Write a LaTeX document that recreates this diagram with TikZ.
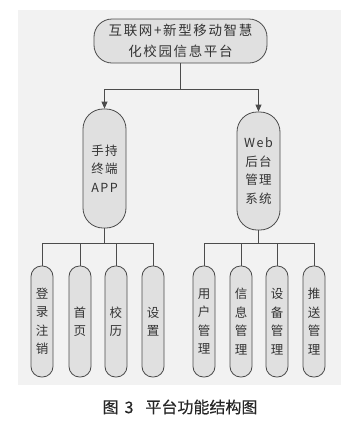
\documentclass[tikz,border=0pt]{standalone}
\usepackage{fontspec}
\newfontfamily\cjk{Noto Sans CJK SC}
\newfontfamily\cjkw[LetterSpace=12]{Noto Sans CJK SC}
\newfontfamily\cjkc[FakeBold=0.4]{Noto Sans CJK SC}
\usetikzlibrary{arrows.meta}
\begin{document}
\begin{tikzpicture}[x=1pt,y=-1pt,
  box/.style={draw=black!70,fill=black!12,line width=0.8pt,inner sep=0pt,align=center,text=black!80,
    font={\cjk\fontsize{12.5}{18.5}\selectfont}},
  child/.style={box,minimum width=22pt,minimum height=111pt,rounded corners=10.5pt},
  mid/.style={box,minimum width=43pt,rounded corners=20pt,font={\cjkw\fontsize{12.5}{18.5}\selectfont}},
  link/.style={draw=black!70,line width=0.8pt},
  arr/.style={link,-{Triangle[length=7pt,width=6pt]}}]
\useasboundingbox (0,0) rectangle (350,424);
\fill[black!5] (18,10) rectangle (341,385);
\node[box,minimum width=173pt,minimum height=44pt,rounded corners=18pt,
  font={\cjkw\fontsize{13.5}{21}\selectfont}] (top) at (180.5,41) {互联网+新型移动智慧\\化校园信息平台};
\node[mid,minimum height=119pt] (l) at (104.5,168.5) {手持\\终端\\APP};
\node[mid,minimum height=118pt] (r) at (258.5,171) {Web\\后台\\管理\\系统};
\node[child] (c1) at (42,321.5) {登\\录\\注\\销};
\node[child] (c2) at (80,321.5) {首\\页};
\node[child] (c3) at (116,321.5) {校\\历};
\node[child] (c4) at (153,321.5) {设\\置};
\node[child] (d1) at (204,321.5) {用\\户\\管\\理};
\node[child] (d2) at (241,321.5) {信\\息\\管\\理};
\node[child] (d3) at (277,321.5) {设\\备\\管\\理};
\node[child] (d4) at (314,321.5) {推\\送\\管\\理};
\coordinate (j) at (180.5,89);
\coordinate (bl) at (104.5,243);
\coordinate (br) at (258.5,243);
\draw[link] (top) -- (j);
\draw[arr] (j) -| (l.north);
\draw[arr] (j) -| (r.north);
\draw[link] (l) -- (bl);
\draw[link] (c1.north) |- (c4.north |- bl) -- (c4.north);
\draw[link] (c2.north) -- (c2.north |- bl);
\draw[link] (c3.north) -- (c3.north |- bl);
\draw[link] (r) -- (br);
\draw[link] (d1.north) |- (d4.north |- br) -- (d4.north);
\draw[link] (d2.north) -- (d2.north |- br);
\draw[link] (d3.north) -- (d3.north |- br);
\node[font={\cjkc\fontsize{16}{18}\selectfont},text=black!85] (cap) at (180,407) {图\hspace{6pt}3\hspace{12pt}平台功能结构图};
\end{tikzpicture}
\end{document}
